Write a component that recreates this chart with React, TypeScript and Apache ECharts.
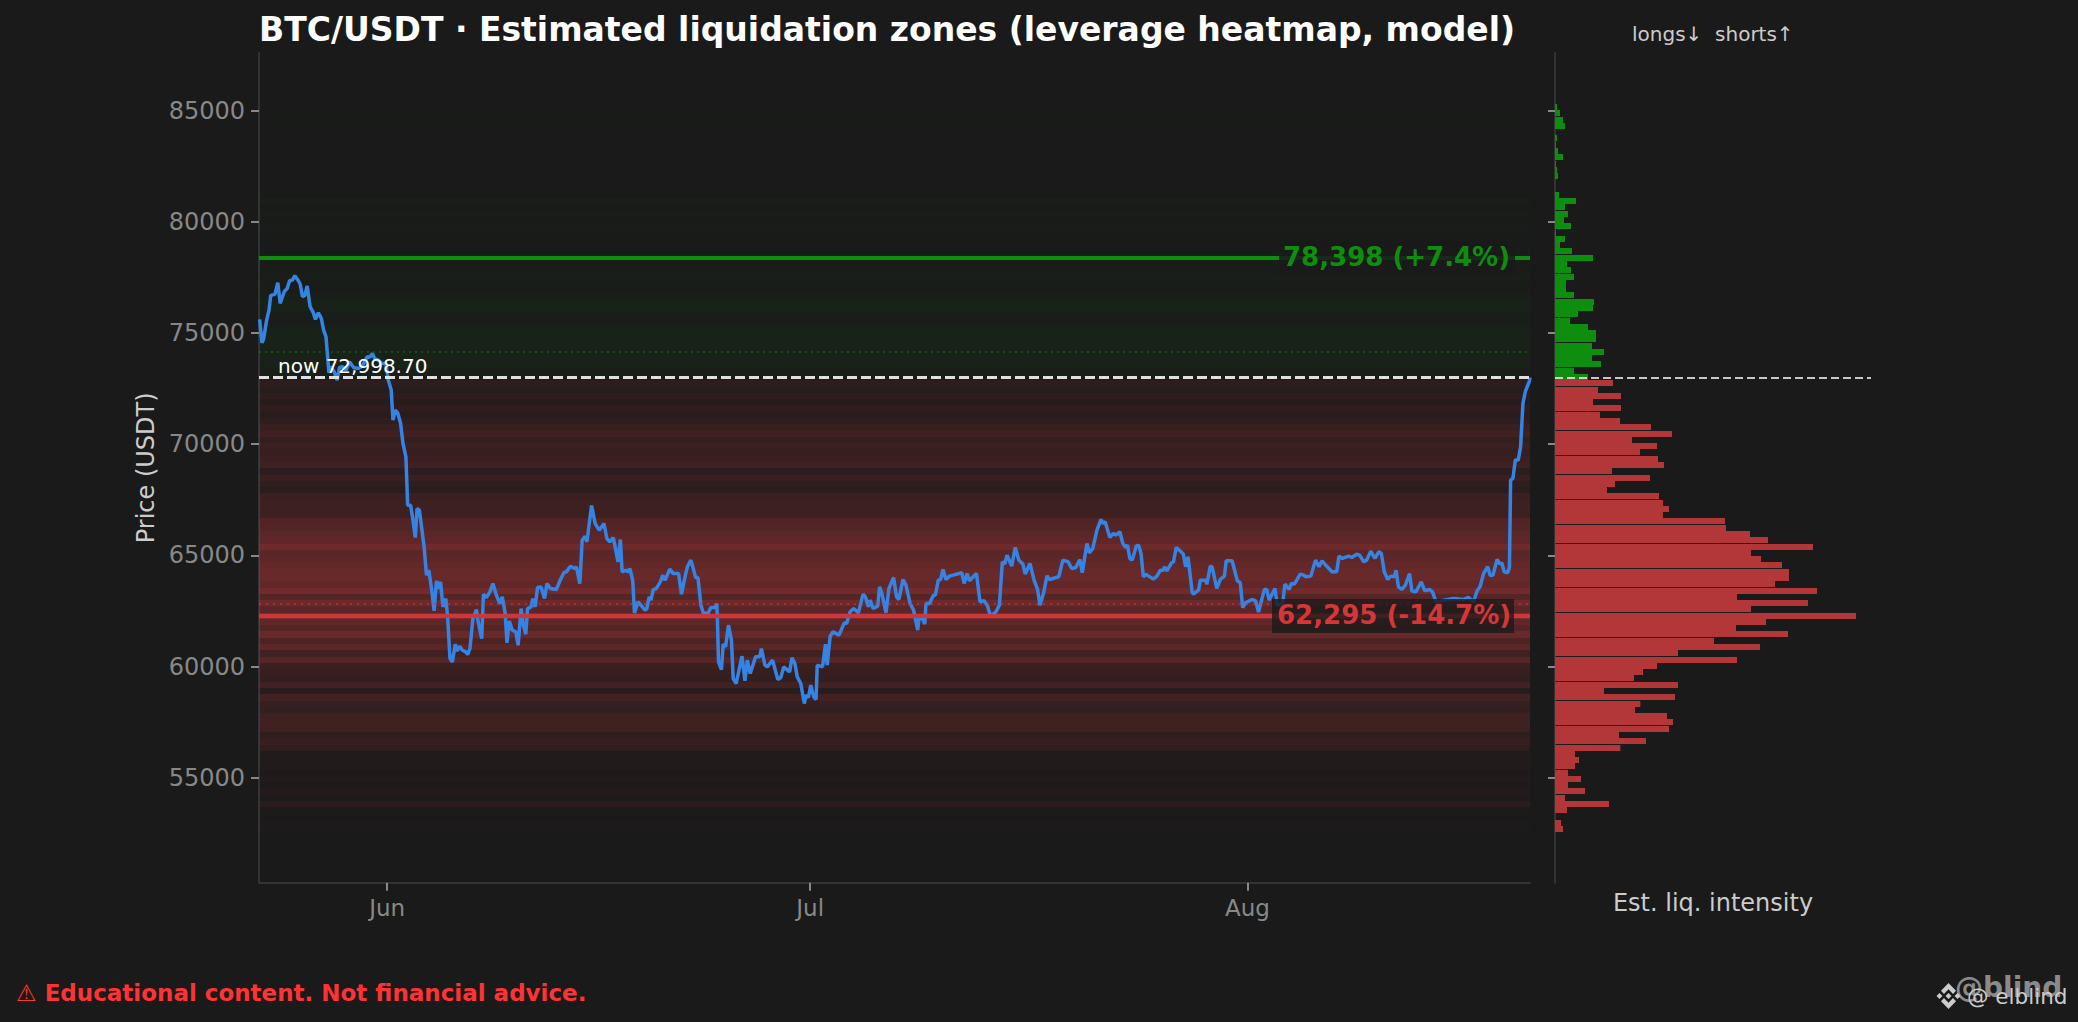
import React, { useEffect, useRef } from "react";
import * as echarts from "echarts";

const TITLE = "BTC/USDT · Estimated liquidation zones (leverage heatmap, model)";
const FONT = "'DejaVu Sans', sans-serif";
const yTicks = [55000, 60000, 65000, 70000, 75000, 80000, 85000];
const monthNames = ["Jun", "Jul", "Aug"];
const monthHours = [218, 938, 1682];
const nowPrice = 72998.7;
const upperLevel = 78398;
const lowerLevel = 62295;
const upperDotted = 74160;
const lowerDotted = 62812;

const priceHours = [1,5,8,12.5,17,20,27,32,36,43,48,52,57,61,67,70,74,78,82,87,92,96,101,106,110,114,119,122,128,133,137,142,148,154,161,169,176,184,188,193,197,203,209,216,220,225,228,232,236,241,245,250,253,258,262,266,269,273,278,281,285,289,294,298,302,305,309,313,318,321,325,329,334,337,342,346,352,355,359,364,370,373,379,382,387,393,398,404,410,414,419,422,426,431,437,441,446,450,454,457,463,466,470,474,480,486,490,496,506,512,519,523,530,537,540,546,550,555,558,566,572,579,587,592,597,603,611,615,618,624,628,631,636,639,645,650,657,660,664,667,671,676,683,687,691,699,705,714,
719,725,729,735,739,743,747,752,756,764,769,776,779,780,782,787,790,794,799,804,807,812,822,827,831,836,845,852,855,861,865,874,883,888,893,903,907,912,916,922,928,931,935,939,944,948,950,959,964,967,972,977,987,996,1000,1006,1012,1020,1028,1032,1037,1040,1045,1053,1056,1060,1067,1072,1080,1085,1089,1096,1101,1108,1114,1121,1123,1129,1133,1135,1141,1148,1151,1156,1160,1164,1169,1175,1196,1200,1205,1209,1221,1227,1234,1240,1245,1254,1260,1265,1269,1273,1281,1287,1293,1300,1304,1312,1319,1325,1329,1335,1341,1345,1361,1368,1377,1383,1390,1397,1401,1409,1413,1419,1426,
1433,1436,1440,1448,1454,1459,1465,1470,1475,1478,1482,1486,1493,1497,1501,1505,1509,1522,1528,1534,1539,1541,1545,1554,1556,1561,1566,1573,1577,1581,1588,1590,1599,1602,1611,1613,1619,1622,1630,1636,1643,1646,1656,1665,1670,1674,1679,1690,1696,1701,1711,1715,1719,1729,1733,1742,1746,1753,1757,1762,1772,1778,1781,1790,1798,1804,1809,1818,1826,1834,1838,1844,1854,1860,1868,1873,1880,1885,1892,1899,1906,1910,1915,1921,1926,1932,1935,1939,1945,1951,1958,1962,1969,1978,1984,1992,1997,2002,2005,2016,2033,2050,2058,2067,2073,2078,2084,2091,2095,2100,2107,2112,2115,2119,2125,2128,2130,2134,2138,2143,2147,2151,2155,2162,2163];

const priceValues = [75615,74565,74745,75510,76035,76695,76740,77265,76335,76860,77010,77355,77385,77580,77355,77205,76635,76695,77115,76185,75945,75615,75915,75660,75135,74835,73215,73485,73260,72885,73455,73485,73335,73710,73455,73410,73515,73935,73905,74085,73845,73785,73635,73635,72885,72435,71085,71535,71415,70935,70035,69435,67260,67260,66585,65805,67110,67035,65985,65385,64110,64335,63435,62505,63855,63510,63810,62685,63060,62235,60360,60210,61005,60705,60915,60735,60660,60540,60810,62160,62565,62010,61260,63255,63105,63360,63735,63210,62835,63135,62385,61065,62055,61635,61560,60960,62610,61860,61455,62610,62685,63060,62685,63555,63585,63060,63735,63510,63465,63855,64230,64260,64515,64410,64485,63735,65685,65865,65610,67245,66435,66135,66435,65760,65610,65805,64710,65715,64260,64335,64260,64410,63885,62415,62910,62760,62535,62610,63135,62985,63465,63510,63810,64110,63885,64380,64185,64185,
63259,64039,64489,64789,64414,64009,64009,62764,62419,62389,62659,62659,62839,62239,60214,59869,61009,60889,61864,61189,59464,59239,60469,59359,60289,59689,60439,60439,60814,60064,59989,60289,59419,59509,59989,59764,60394,60139,59539,59239,58339,58714,58609,59164,58639,58519,60064,59989,61009,60064,61369,61564,61414,61969,61939,62464,62614,62419,63259,63139,62689,62989,62614,62719,63589,63289,62419,63514,64009,63139,63019,63919,63664,62839,62539,61639,62164,62164,61909,62839,62839,63214,63214,63889,63919,64369,63919,64069,64219,63739,64189,63859,64189,62914,62959,62719,62269,62464,62764,64714,64609,65014,64519,65359,64789,64609,64159,64639,63889,63469,62764,63289,64084,63919,64039,64789,64714,64414,64459,64819,64219,65539,65119,65314,66139,
66619,66439,66514,65809,65989,65914,66064,65539,65359,65464,64864,64789,65419,65464,65089,64039,64159,63934,64069,64339,64339,64489,64309,64714,64669,65359,65239,65059,64489,64939,63364,63259,63439,63889,63889,63709,64519,64489,63514,63919,64069,64759,64759,63859,63769,62659,62869,63019,62959,62449,63469,63469,62989,63514,62764,62839,63709,63469,63739,63709,64159,64114,64039,64069,64789,64489,64759,64489,64264,64264,64969,64864,64969,64909,65059,65014,64714,64789,65194,64864,65164,65089,64264,63919,64069,64039,64339,63589,63469,63664,64189,63394,63364,63814,63409,63469,63364,62989,62869,62989,63064,63019,63109,62914,63409,63589,64189,64489,64114,64114,64819,64609,64669,64264,64219,64459,68389,68466,69288,69288,69887,71838,72361,72843,72998.7];

const shortIntensity = [6,15,24,30,0,6,3,9,24,3,6,9,0,0,12,63,30,39,27,48,3,30,15,51,114,36,48,57,33,33,57,117,114,69,45,99,123,123,111,147,111,138,57,99];
const longIntensity = [174,129,198,114,198,135,195,288,351,231,306,255,309,327,171,285,180,156,312,324,342,324,510,513,585,639,774,588,618,681,702,702,660,786,546,759,588,903,633,543,699,477,615,369,546,306,264,237,369,147,360,256,240,336,354,342,192,273,196,60,72,60,39,78,39,90,30,162,36,0,18,24];

const binTopPrice = 85301;
const binStep = 282.4;
const intensityMax = 903;
const endHour = 2163;
const BG = "#1a1a1a";
const GREEN = "#0e8e0e";
const RED = "#d63638";
const BAR_RED = "#b33638";

const allIntensity = shortIntensity.concat(longIntensity);
const sideOf = (i: number) => (i < shortIntensity.length ? "short" : "long");

const logoPath = "M50 0 L80 30 L68 42 L50 24 L32 42 L20 30 Z M50 100 L80 70 L68 58 L50 76 L32 58 L20 70 Z M14 38 L26 50 L14 62 L2 50 Z M86 38 L98 50 L86 62 L74 50 Z M50 38 L62 50 L50 62 L38 50 Z";

function text(t: string, x: number, y: number, size: number, fill: string, weight = "normal", align = "left", opacity = 1) {
  return {
    type: "text", x, y, z: 100, silent: true,
    style: { text: t, fill, opacity, fontFamily: FONT, fontSize: size, fontWeight: weight, align, verticalAlign: "middle" },
  };
}

export default function App() {
  const ref = useRef<HTMLDivElement>(null);
  useEffect(() => {
    document.body.style.margin = "0";
    document.body.style.background = BG;
    document.documentElement.style.overflow = "hidden";
    echarts.graphic.registerShape("logo", echarts.graphic.extendPath(logoPath as any, {} as any));
    const chart = echarts.init(ref.current!, undefined, { renderer: "svg" });

    const bandData = allIntensity.map((v, i) => [0, binTopPrice - i * binStep, binTopPrice - (i + 1) * binStep, v, i]);
    const barData = allIntensity.map((v, i) => [v, binTopPrice - i * binStep, binTopPrice - (i + 1) * binStep, i]);

    const option: any = {
      animation: false,
      backgroundColor: BG,
      title: {
        text: TITLE, left: 259, top: 13, padding: 0,
        textStyle: { color: "#ffffff", fontFamily: FONT, fontWeight: "bold", fontSize: 33 },
      },
      textStyle: { fontFamily: FONT },
      grid: [
        { left: 259, top: 53, width: 1271, height: 829.7 },
        { left: 1555, top: 53, width: 316, height: 829.7 },
      ],
      xAxis: [
        {
          type: "value", gridIndex: 0, min: 0, max: endHour, splitLine: { show: false },
          axisLine: { lineStyle: { color: "#333333", width: 2 } },
          axisTick: { show: true, length: 8, lineStyle: { color: "#888888", width: 2 }, customValues: monthHours },
          axisLabel: {
            color: "#888888", fontSize: 23, fontFamily: FONT, margin: 14,
            customValues: monthHours,
            formatter: (v: number) => monthNames[monthHours.indexOf(v)] || "",
          },
        },
        {
          type: "value", gridIndex: 1, min: 0, max: 948, splitLine: { show: false },
          axisLine: { show: false }, axisTick: { show: false }, axisLabel: { show: false },
          name: "Est. liq. intensity", nameLocation: "middle", nameGap: 8,
          nameTextStyle: { color: "#cccccc", fontSize: 24, fontFamily: FONT },
        },
      ],
      yAxis: [
        {
          type: "value", gridIndex: 0, min: 50282, max: 87595, splitLine: { show: false },
          axisLine: { show: true, lineStyle: { color: "#333333", width: 2 } },
          axisTick: { show: true, length: 8, lineStyle: { color: "#888888", width: 2 }, customValues: yTicks },
          axisLabel: { color: "#888888", fontSize: 24, fontFamily: FONT, margin: 14, customValues: yTicks, formatter: (v: number) => String(v) },
          name: "Price (USDT)", nameLocation: "middle", nameGap: 101,
          nameTextStyle: { color: "#cccccc", fontSize: 24, fontFamily: FONT },
        },
        {
          type: "value", gridIndex: 1, min: 50282, max: 87595, offset: 1, splitLine: { show: false },
          axisLine: { show: true, lineStyle: { color: "#333333", width: 2 } },
          axisTick: { show: true, length: 7, lineStyle: { color: "#888888", width: 2 }, customValues: yTicks },
          axisLabel: { show: false },
        },
      ],
      series: [
        {
          type: "custom", name: "bands", xAxisIndex: 0, yAxisIndex: 0, z: 1, silent: true,
          encode: { x: 0, y: [1, 2] }, data: bandData,
          renderItem: (params: any, api: any) => {
            const cs = params.coordSys;
            const y0 = Math.round(api.coord([api.value(0), api.value(1)])[1]);
            const y1 = Math.round(api.coord([api.value(0), api.value(2)])[1]);
            const a = (0.53 * api.value(3)) / intensityMax;
            const fill = sideOf(api.value(4)) === "short" ? `rgba(14,142,14,${a})` : `rgba(214,62,64,${a})`;
            return { type: "rect", shape: { x: cs.x, y: y0, width: cs.width, height: y1 - y0 }, style: { fill } };
          },
        },
        {
          type: "custom", name: "intensity", xAxisIndex: 1, yAxisIndex: 1, z: 2, silent: true,
          encode: { x: 0, y: [1, 2] }, data: barData,
          renderItem: (params: any, api: any) => {
            const p0 = api.coord([0, api.value(1)]);
            const p1 = api.coord([api.value(0), api.value(1)]);
            const y0 = Math.round(p0[1]);
            const fill = sideOf(api.value(3)) === "short" ? GREEN : BAR_RED;
            return { type: "rect", shape: { x: p0[0], y: y0, width: p1[0] - p0[0], height: 6 }, style: { fill } };
          },
          markLine: {
            silent: true, symbol: "none", z: 5, label: { show: false },
            lineStyle: { color: "#e6e6e6", width: 2, type: [8, 4], opacity: 0.85 },
            data: [{ yAxis: nowPrice }],
          },
        },
        {
          type: "line", name: "price", xAxisIndex: 0, yAxisIndex: 0, z: 3, silent: true,
          showSymbol: false, symbol: "none", smooth: false,
          lineStyle: { color: "#3584e4", width: 3.5 },
          data: priceHours.map((h, i) => [h, priceValues[i]]),
          markLine: {
            silent: true, symbol: "none", z: 5, label: { show: false },
            data: [
              { yAxis: upperDotted, lineStyle: { color: GREEN, width: 1.5, type: [2, 4], opacity: 0.55 } },
              { yAxis: lowerDotted, lineStyle: { color: "#d63638", width: 2, type: [2, 5], opacity: 0.55 } },
              { yAxis: upperLevel, lineStyle: { color: GREEN, width: 4, type: "solid" } },
              { yAxis: lowerLevel, lineStyle: { color: "#cf3539", width: 4, type: "solid" } },
              { yAxis: nowPrice, lineStyle: { color: "#e0e0e0", width: 3, type: [10, 4] } },
            ],
          },
        },
      ],
      graphic: [
        { type: "rect", z: 99, silent: true, shape: { x: 1279, y: 242, width: 236, height: 33 }, style: { fill: "rgba(26,26,26,0.85)" } },
        { type: "rect", z: 99, silent: true, shape: { x: 1272, y: 599, width: 242, height: 34 }, style: { fill: "rgba(26,26,26,0.8)" } },
        text("78,398 (+7.4%)", 1283, 257, 26, GREEN, "bold"),
        text("62,295 (-14.7%)", 1277, 615, 26, RED, "bold"),
        text("now 72,998.70", 278, 366, 20, "#ffffff"),
        text("longs↓  shorts↑", 1632, 34, 20, "#cccccc"),
        text("⚠ Educational content. Not financial advice.", 16, 993, 23, "#ff3333", "bold"),
        text("@blind", 1955, 987, 28, "#8a8a8a", "bold"),
        text("@ elblind", 1967, 996, 21.5, "#cccccc"),
        { type: "logo", x: 1936, y: 983, scaleX: 0.25, scaleY: 0.26, z: 100, silent: true, style: { fill: "#cccccc" } },
      ],
    };
    chart.setOption(option);
    return () => chart.dispose();
  }, []);
  return <div ref={ref} style={{ width: 2078, height: 1022 }} />;
}
